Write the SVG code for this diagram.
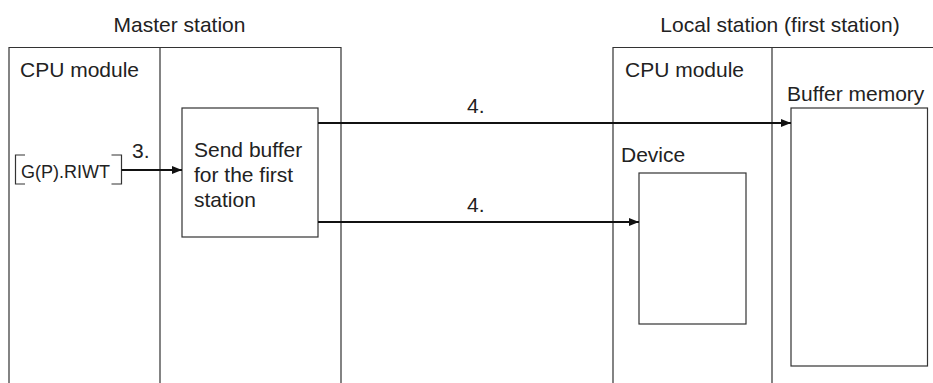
<svg xmlns="http://www.w3.org/2000/svg" width="933" height="383" viewBox="0 0 933 383">
<style>
.t{font-family:"Liberation Sans",Arial,sans-serif;font-size:21px;fill:#222}
.s{font-size:18px}
.box{fill:none;stroke:#333;stroke-width:1.2}
.ln{fill:none;stroke:#111;stroke-width:2}
</style>
<defs>
<marker id="ah" viewBox="0 0 10 8" refX="10" refY="4" markerWidth="10" markerHeight="8" markerUnits="userSpaceOnUse" orient="auto">
<path d="M0,0 L10,4 L0,8 Z" fill="#111"/>
</marker>
</defs>
<rect width="933" height="383" fill="#fff"/>
<text class="t" x="179.5" y="32" text-anchor="middle">Master station</text>
<text class="t" x="780" y="32" text-anchor="middle">Local station (first station)</text>
<g id="master">
<path class="box" d="M9,390 V47.5 H341 V390 M160,47.5 V390"/>
<text class="t" x="20" y="77">CPU module</text>
</g>
<g id="riwt">
<path class="box" d="M25,155 H15.5 V184 H25 M111.5,155 H121.5 V184 H111.5"/>
<text class="t s" x="21" y="178">G(P).RIWT</text>
</g>
<g id="sendbuf">
<rect class="box" x="182" y="108" width="136" height="129"/>
<text class="t" x="194" y="157">Send buffer</text>
<text class="t" x="194" y="182">for the first</text>
<text class="t" x="194" y="207">station</text>
</g>
<g id="local">
<path class="box" d="M613,390 V47.5 H940 M772,47.5 V390"/>
<text class="t" x="625" y="77">CPU module</text>
</g>
<g id="device">
<text class="t" x="621" y="162">Device</text>
<rect class="box" x="639" y="173" width="107" height="151"/>
</g>
<g id="bufmem">
<text class="t" x="787" y="101">Buffer memory</text>
<rect class="box" x="791" y="108" width="136.5" height="258"/>
</g>
<g id="connectors">
<line class="ln" x1="121.5" y1="170" x2="182" y2="170" marker-end="url(#ah)"/>
<text class="t" x="132" y="158">3.</text>
<line class="ln" x1="318" y1="123" x2="791" y2="123" marker-end="url(#ah)"/>
<text class="t" x="467" y="113">4.</text>
<line class="ln" x1="318" y1="222" x2="639" y2="222" marker-end="url(#ah)"/>
<text class="t" x="467" y="212">4.</text>
</g>
</svg>
